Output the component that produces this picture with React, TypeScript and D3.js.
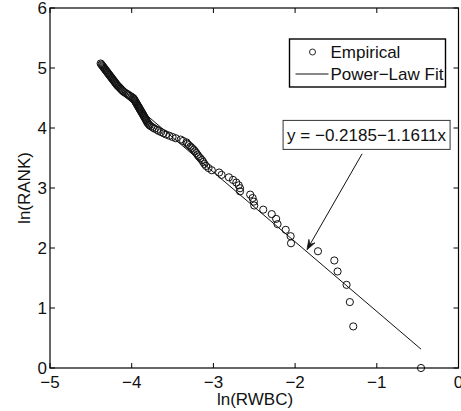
import React, { useEffect } from "react";
import * as d3 from "d3";

// ln(RWBC) values (x) and ln(RANK) values (y)
const lnRWBC: number[] = [
  -0.459, -1.288, -1.33, -1.37, -1.48, -1.52, -1.72, -2.05, -2.055, -2.115,
  -2.215, -2.232, -2.286, -2.39, -2.5, -2.505, -2.52, -2.55, -2.674, -2.674,
  -2.69, -2.72, -2.76, -2.81, -2.9, -2.93, -3.02, -3.06, -3.09, -3.11,
  -3.125, -3.14, -3.16, -3.18, -3.195, -3.21, -3.225, -3.24, -3.26, -3.28,
  -3.3, -3.32, -3.33, -3.37, -3.4, -3.46, -3.5, -3.54, -3.58, -3.61,
  -3.64, -3.67, -3.69, -3.72, -3.74, -3.76, -3.78, -3.79, -3.8, -3.81,
  -3.816, -3.823, -3.829, -3.835, -3.841, -3.848, -3.854, -3.86,
  -3.866, -3.873, -3.879, -3.886, -3.892, -3.899, -3.905, -3.911, -3.918, -3.924,
  -3.931, -3.937, -3.944, -3.95, -3.956, -3.963, -3.969, -3.976,
  -3.986, -4.003, -4.02, -4.037, -4.054, -4.071, -4.089,
  -4.104, -4.114, -4.125, -4.136, -4.146, -4.157, -4.168, -4.179,
  -4.187, -4.196, -4.204, -4.212, -4.221, -4.229, -4.238, -4.246, -4.254, -4.263,
  -4.271, -4.28, -4.288, -4.296, -4.305, -4.313, -4.321, -4.33, -4.338, -4.346,
  -4.355, -4.363, -4.371, -4.38,
];
const lnRANK: number[] = [
  0, 0.693, 1.099, 1.386, 1.609, 1.792, 1.946, 2.079, 2.197, 2.303,
  2.398, 2.485, 2.565, 2.639, 2.708, 2.773, 2.833, 2.89, 2.944, 2.996,
  3.045, 3.091, 3.135, 3.178, 3.219, 3.258, 3.296, 3.332, 3.367, 3.401,
  3.434, 3.466, 3.497, 3.526, 3.555, 3.584, 3.611, 3.638, 3.664, 3.689,
  3.714, 3.738, 3.761, 3.784, 3.807, 3.829, 3.85, 3.871, 3.892, 3.912,
  3.932, 3.951, 3.97, 3.989, 4.007, 4.025, 4.043, 4.06, 4.078, 4.094,
  4.115, 4.13, 4.145, 4.16, 4.175, 4.19, 4.205, 4.22,
  4.235, 4.25, 4.265, 4.28, 4.295, 4.31, 4.325, 4.34, 4.355, 4.37,
  4.385, 4.4, 4.415, 4.43, 4.445, 4.46, 4.475, 4.49,
  4.505, 4.52, 4.535, 4.55, 4.565, 4.58, 4.595,
  4.61, 4.625, 4.64, 4.655, 4.67, 4.685, 4.7, 4.715,
  4.73, 4.745, 4.76, 4.775, 4.79, 4.805, 4.82, 4.835, 4.85, 4.865,
  4.88, 4.895, 4.91, 4.925, 4.94, 4.955, 4.97, 4.985, 5.0, 5.015,
  5.03, 5.045, 5.06, 5.075,
];

const fitIntercept = -0.2185;
const fitSlope = -1.1611;
const fitRange = [-4.15, -0.459];
const fitLabel = "y = \u22120.2185\u22121.1611x";

const xTicks = [-5, -4, -3, -2, -1, 0];
const yTicks = [0, 1, 2, 3, 4, 5, 6];
const xTickLabels = ["\u22125", "\u22124", "\u22123", "\u22122", "\u22121", "0"];
const yTickLabels = ["0", "1", "2", "3", "4", "5", "6"];

const legendLabels = ["Empirical", "Power\u2212Law Fit"];

// annotation anchors (data coords)
const arrowTip = [-1.855, 1.97];
const arrowTail = [-1.18, 3.57];
const labelCenter = [-1.125, 3.885];

const W = 461;
const H = 411;
const L = 50;
const R = 458.5;
const T = 8;
const B = 368;
const FONT = "'Liberation Sans', Arial, Helvetica, sans-serif";
const FS = 17;

export default function App() {
  useEffect(() => {
    document.body.style.margin = "0";
  }, []);

  const x = d3.scaleLinear().domain([-5, 0]).range([L, R]);
  const y = d3.scaleLinear().domain([0, 6]).range([B, T]);

  const fitLine = d3
    .line<number>()
    .x((d) => x(d))
    .y((d) => y(fitIntercept + fitSlope * d))(fitRange);

  const tickLen = 5;

  // arrow
  const tx = x(arrowTip[0]);
  const ty = y(arrowTip[1]);
  const sx = x(arrowTail[0]);
  const sy = y(arrowTail[1]);
  const ang = Math.atan2(ty - sy, tx - sx);
  const headLen = 10;
  const headW = 3.5;
  const bx = tx - headLen * Math.cos(ang);
  const by = ty - headLen * Math.sin(ang);
  const nx = -Math.sin(ang);
  const ny = Math.cos(ang);
  const notchX = tx - headLen * 0.6 * Math.cos(ang);
  const notchY = ty - headLen * 0.6 * Math.sin(ang);
  const head = `M${tx},${ty} L${bx + nx * headW},${by + ny * headW} L${notchX},${notchY} L${bx - nx * headW},${by - ny * headW} Z`;

  const lcx = x(labelCenter[0]);
  const lcy = y(labelCenter[1]);

  // legend placement (top-right of plot area)
  const lgW = 156;
  const lgH = 48;
  const lgX = R - 13 - lgW;
  const lgY = T + 31;

  return (
    <svg
      width={W}
      height={H}
      style={{ position: "absolute", left: 0, top: 0, background: "#fff" }}
      fontFamily={FONT}
    >
      <rect x={0} y={0} width={W} height={H} fill="#fff" />
      {/* fit line */}
      <path d={fitLine || ""} fill="none" stroke="#111" strokeWidth={1} />
      {/* points */}
      {lnRWBC.map((v, i) => (
        <circle
          key={i}
          cx={x(v)}
          cy={y(lnRANK[i])}
          r={3.6}
          fill="none"
          stroke="#111"
          strokeWidth={1}
        />
      ))}
      {/* axes box */}
      <rect x={L} y={T} width={R - L} height={B - T} fill="none" stroke="#000" strokeWidth={1.2} />
      {xTicks.map((t, i) => (
        <g key={"x" + i}>
          <line x1={x(t)} x2={x(t)} y1={B} y2={B - tickLen} stroke="#000" strokeWidth={1} />
          <line x1={x(t)} x2={x(t)} y1={T} y2={T + tickLen} stroke="#000" strokeWidth={1} />
          <text x={x(t)} y={388} fontSize={FS} textAnchor="middle" fill="#111">
            {xTickLabels[i]}
          </text>
        </g>
      ))}
      {yTicks.map((t, i) => (
        <g key={"y" + i}>
          <line x1={L} x2={L + tickLen} y1={y(t)} y2={y(t)} stroke="#000" strokeWidth={1} />
          <line x1={R} x2={R - tickLen} y1={y(t)} y2={y(t)} stroke="#000" strokeWidth={1} />
          <text x={47} y={y(t) + 6} fontSize={FS} textAnchor="end" fill="#111">
            {yTickLabels[i]}
          </text>
        </g>
      ))}
      {/* axis titles */}
      <text x={255} y={405} fontSize={FS} textAnchor="middle" fill="#111">
        ln(RWBC)
      </text>
      <text
        transform={`translate(30,188) rotate(-90)`}
        fontSize={FS}
        textAnchor="middle"
        fill="#111"
      >
        ln(RANK)
      </text>
      {/* legend */}
      <rect x={lgX} y={lgY} width={lgW} height={lgH} fill="#fff" stroke="#000" strokeWidth={1.4} />
      <circle cx={lgX + 23} cy={lgY + 13} r={3} fill="none" stroke="#111" strokeWidth={0.9} />
      <text x={lgX + 41} y={lgY + 19} fontSize={FS} fill="#111">
        {legendLabels[0]}
      </text>
      <line x1={lgX + 6} x2={lgX + 39} y1={lgY + 35} y2={lgY + 35} stroke="#111" strokeWidth={1} />
      <text x={lgX + 41} y={lgY + 41} fontSize={FS} fill="#111">
        {legendLabels[1]}
      </text>
      {/* annotation */}
      <line x1={sx} y1={sy} x2={notchX} y2={notchY} stroke="#111" strokeWidth={1} />
      <path d={head} fill="#111" stroke="#111" strokeWidth={0.8} strokeLinejoin="miter" />
      <rect x={lcx - 83.5} y={lcy - 14.5} width={167} height={29} fill="#fff" stroke="#333" strokeWidth={1} />
      <text x={lcx} y={lcy + 6} fontSize={FS} textAnchor="middle" fill="#111">
        {fitLabel}
      </text>
    </svg>
  );
}
